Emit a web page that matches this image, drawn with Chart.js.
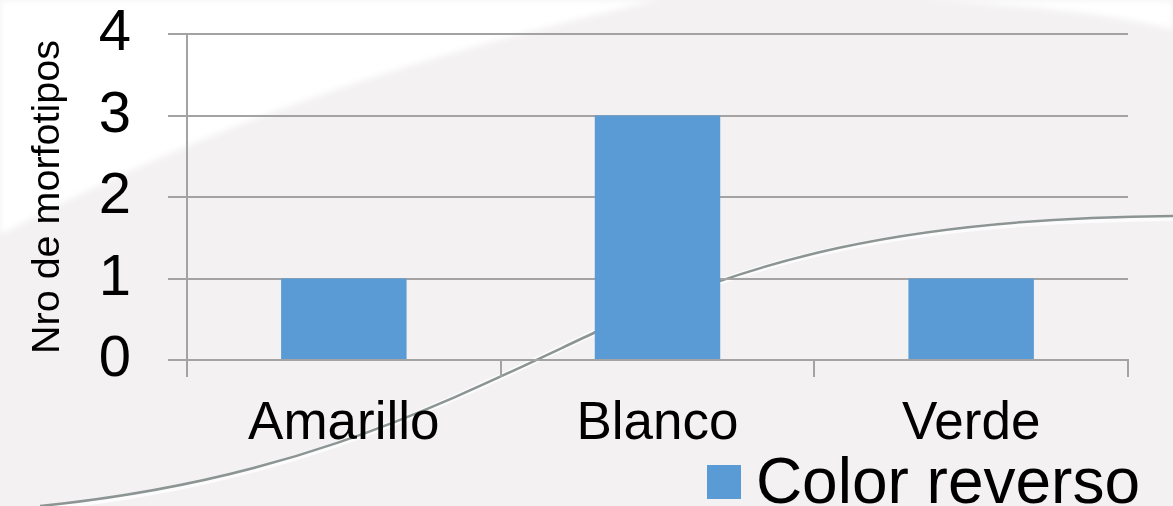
<!DOCTYPE html>
<html><head><meta charset="utf-8">
<script src="https://cdn.jsdelivr.net/npm/chart.js@4/dist/chart.umd.min.js"></script>
<style>
html,body{margin:0;padding:0;overflow:hidden;width:1173px;height:506px;background:#f3f1f1;}
#wrap{position:relative;width:1173px;height:527px;}
#bg{position:absolute;left:0;top:0;}
#c{position:absolute;left:0;top:0;}
</style></head><body>
<div id="wrap">
<svg id="bg" width="1173" height="527" xmlns="http://www.w3.org/2000/svg">
  <defs>
    <filter id="blur"><feGaussianBlur stdDeviation="3"/></filter>
  </defs>
  <rect x="0" y="0" width="1173" height="527" fill="#f3f1f1"/>
  <path d="M0,0 L660,0 C 420,55 230,115 0,235 Z" fill="#ffffff" filter="url(#blur)"/>
  <path d="M920,0 C 1040,6 1120,16 1173,30 L1173,0 Z" fill="#ffffff" filter="url(#blur)"/>
  <path d="M40,508 C 300,482 450,400 600,330 S 900,220 1173,218" fill="none" stroke="#ffffff" stroke-width="6" opacity="0.8"/>
  <path d="M40,506 C 300,480 450,400 600,330 S 900,218 1173,216" fill="none" stroke="#8c9494" stroke-width="2.5"/>
</svg>
<canvas id="c" width="1173" height="527"></canvas>
</div>
<script>
const categories = ['Amarillo', 'Blanco', 'Verde'];
const seriesName = 'Color reverso';
const seriesValues = [1, 3, 1];
const yAxisTitle = 'Nro de morfotipos';
const yMin = 0, yMax = 4, yStep = 1;

const H = 527;
const FONT = "'Liberation Sans', Arial, sans-serif";
const GRID = '#a3a3a3';
const BAR = '#5b9bd5';

// legend marker: a filled square in the series colour
const marker = document.createElement('canvas');
marker.width = 34; marker.height = 40;
(function(){ const g = marker.getContext('2d'); g.fillStyle = BAR; g.fillRect(0, 0, 34, 34); })();

new Chart(document.getElementById('c'), {
  type: 'bar',
  data: {
    labels: categories,
    datasets: [{
      label: seriesName,
      data: seriesValues,
      backgroundColor: BAR,
      borderWidth: 0,
      categoryPercentage: 0.4,
      barPercentage: 1.0
    }]
  },
  options: {
    responsive: false,
    animation: false,
    devicePixelRatio: 1,
    layout: { padding: { top: 34, right: 23, left: 0, bottom: 0 } },
    plugins: {
      tooltip: { enabled: false },
      legend: {
        display: true,
        position: 'bottom',
        align: 'end',
        labels: {
          color: '#000',
          font: { family: FONT, size: 64 },
          usePointStyle: true,
          pointStyle: marker,
          pointStyleWidth: 0.01,
          boxHeight: 34,
          padding: 10
        }
      }
    },
    scales: {
      x: {
        afterFit: (s) => { s.height = (H - 360) - s.chart.legend.height; },
        grid: { display: true, drawOnChartArea: false, drawTicks: true, tickLength: 17, color: GRID, lineWidth: 2 },
        border: { display: true, color: GRID, width: 2 },
        ticks: { color: '#000', font: { family: FONT, size: 53 }, padding: 16, autoSkip: false, maxRotation: 0 }
      },
      y: {
        min: yMin, max: yMax,
        afterFit: (s) => { s.width = 187; s.paddingTop = 0; s.paddingBottom = 0; },
        grid: { display: true, drawTicks: true, tickLength: 19, color: GRID, lineWidth: 2 },
        border: { display: true, color: GRID, width: 2 },
        ticks: { stepSize: yStep, autoSkip: false, color: '#000', font: { family: FONT, size: 58 }, padding: 37 },
        title: { display: true, text: yAxisTitle, color: '#000', font: { family: FONT, size: 39.5 }, padding: { top: 24, bottom: 0 } }
      },
      yPad: {
        position: 'right',
        display: true,
        afterFit: (s) => { s.width = 22; s.paddingTop = 0; s.paddingBottom = 0; },
        grid: { display: false },
        border: { display: false },
        ticks: { display: false }
      }
    }
  }
});
</script>
</body></html>
